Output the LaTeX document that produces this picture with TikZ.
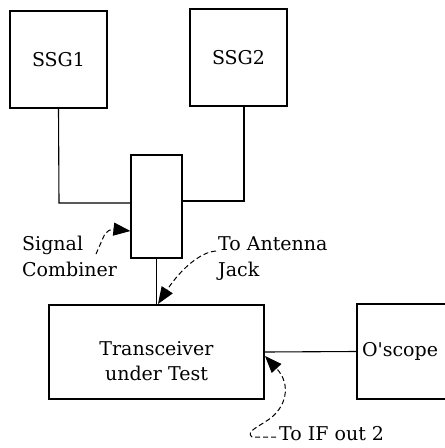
\documentclass[tikz,border=0pt]{standalone}
\usepackage{fontspec}
\setmainfont{DejaVu Serif}
\usetikzlibrary{arrows.meta}
\tikzset{
  box/.style={draw, line width=1.1pt, inner sep=0pt},
  wire/.style={line width=1.1pt},
  lbl/.style={anchor=base west, inner sep=0pt, font=\fontsize{19}{24}\selectfont},
  boxtxt/.style={font=\fontsize{19}{25}\selectfont},
  pointer/.style={line width=1pt, dash pattern=on 5pt off 3pt, -{Triangle[length=17pt,width=13pt]}}
}
\begin{document}
\begin{tikzpicture}[x=1pt,y=-1pt]
\useasboundingbox (0,0) rectangle (445,448);
\clip (0,0) rectangle (445,448);
% boxes
\node[box, minimum width=97pt, minimum height=97pt, boxtxt] (ssg1) at (58.5,59.5) {SSG1};
\node[box, minimum width=97pt, minimum height=97pt, boxtxt] (ssg2) at (238.5,57.5) {SSG2};
\node[box, minimum width=51pt, minimum height=103pt] (comb) at (156.5,206.5) {};
\node[box, minimum width=215pt, minimum height=94pt] (trx) at (156.5,352) {};
\node[boxtxt, align=center] (trxt) at (156.5,361) {Transceiver\\under Test};
\node[box, minimum width=113pt, minimum height=95pt, text width=103pt, inner xsep=5pt, align=left, boxtxt] (osc) at (413.5,351.5) {O\textquotesingle scope};
% wiring coordinates
\coordinate (s1) at (59,203);
\coordinate (s2t) at (244,106);
\coordinate (s2) at (244,201);
\draw[wire] (ssg1.south) -- (s1) -- (s1 -| comb.west);
\draw[wire] (s2t) -- (s2) -- (s2 -| comb.east);
\draw[wire] (comb.south) -- (comb.south |- trx.north);
\draw[wire] (trx.east) -- (osc.west);
% labels
\node[lbl] (sig1) at (22,250) {Signal};
\node[lbl] (sig2) at (22,276) {Combiner};
\node[lbl] (ant1) at (218,250) {To Antenna};
\node[lbl] (ant2) at (218,276) {Jack};
\node[lbl] (ifo) at (279,440) {To IF out 2};
% pointers
\coordinate (p1) at (96,254);
\coordinate (p1b) at (103,238);
\draw[pointer] (p1) -- (p1b) .. controls (106,230) and (112,229) .. (comb.west |- 0,231);
\coordinate (p2) at (216,251);
\coordinate (p2t) at (158,304);
\draw[pointer] (p2) .. controls (200,252) and (180,270) .. (p2t);
\coordinate (p3) at (276,437);
\coordinate (p3b) at (252,437);
\coordinate (p3t) at (265,356);
\draw[pointer] (p3) -- (p3b) .. controls (246,432) and (256,428) .. (268,420) .. controls (286,408) and (292,385) .. (p3t);
\end{tikzpicture}
\end{document}
